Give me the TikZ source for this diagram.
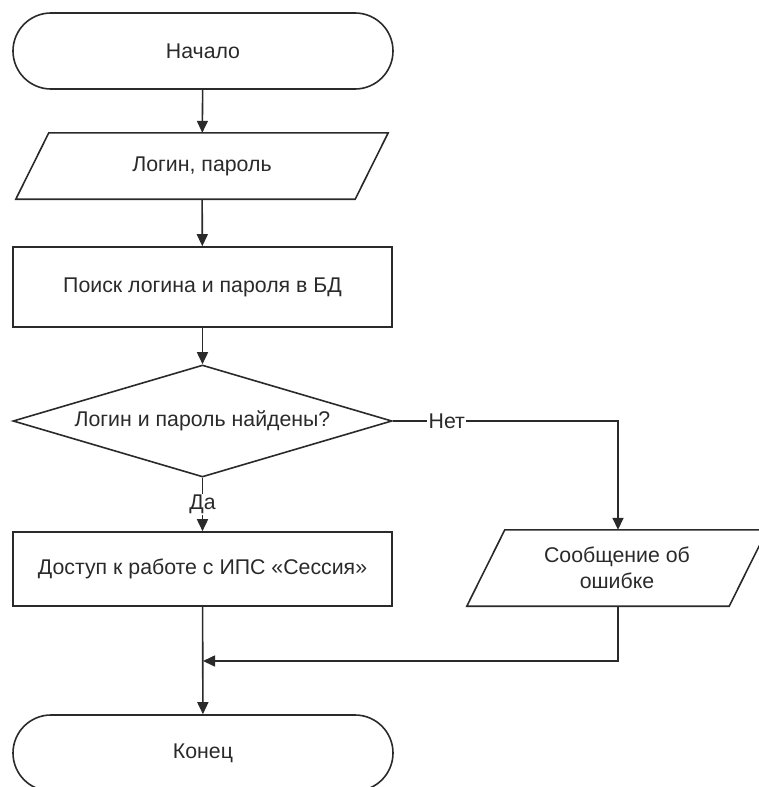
\documentclass[tikz,border=0pt]{standalone}
\usepackage{fontspec}
\setmainfont{Liberation Sans}
\usetikzlibrary{shapes.geometric,arrows.meta}
\definecolor{ln}{HTML}{2A2A2A}
\definecolor{tx}{HTML}{2A2A2A}
\begin{document}
\begin{tikzpicture}[x=1pt,y=-1pt,
  every node/.style={font=\fontsize{21.3}{26}\selectfont, text=tx},
  base/.style={draw=ln, line width=1.6pt, inner sep=0pt, align=center},
  term/.style={base, rectangle, rounded corners=38pt, minimum width=380pt, minimum height=76pt},
  proc/.style={base, rectangle, minimum width=379pt},
  iobody/.style={rectangle, inner sep=0pt, align=center},
  ioedge/.style={draw=ln, line width=1.6pt, line join=miter},
  dec/.style={base, diamond, aspect=3.38, minimum width=379pt, minimum height=112pt},
  conn/.style={draw=ln, line width=1.6pt, -{Triangle[width=11pt,length=12pt]}},
  lbl/.style={fill=white, inner sep=1.5pt}
]
\useasboundingbox (0,0) rectangle (759,787);
\clip (0,0) rectangle (759,787);
\node[term] (start) at (203,51) {Начало};
\node[iobody, minimum width=372pt, minimum height=66pt] (inp) at (202,166) {Логин, пароль};
\draw[ioedge] (inp.south west) -- ([xshift=33pt]inp.north west) -- (inp.north east) -- ([xshift=-33pt]inp.south east) -- cycle;
\node[proc, minimum height=80pt] (search) at (202.5,287) {Поиск логина и пароля в БД};
\node[dec] (check) at (202.5,421) {Логин и пароль найдены?};
\node[proc, minimum height=74pt] (access) at (202.5,569) {Доступ к работе с ИПС «Сессия»};
\node[iobody, minimum width=300pt, minimum height=76pt] (err) at (617,568) {Сообщение об\\ошибке};
\draw[ioedge] (err.south west) -- ([xshift=38pt]err.north west) -- (err.north east) -- ([xshift=-38pt]err.south east) -- cycle;
\node[term] (end) at (203,753) {Конец};
\coordinate (corner) at (618,421);
\coordinate (join) at (203,661);

\draw[conn] (start) -- (inp);
\draw[conn] (inp) -- (search);
\draw[conn] (search) -- (check);
\draw[conn] (check.south) -- node[lbl, pos=0.5] {Да} (access.north);
\draw[conn] (check.east) -- node[lbl, pos=0.24] {Нет} (corner) -- (err.north -| corner);
\draw[conn] (access) -- (end);
\draw[conn] (err.south -| corner) |- (join);
\end{tikzpicture}
\end{document}
